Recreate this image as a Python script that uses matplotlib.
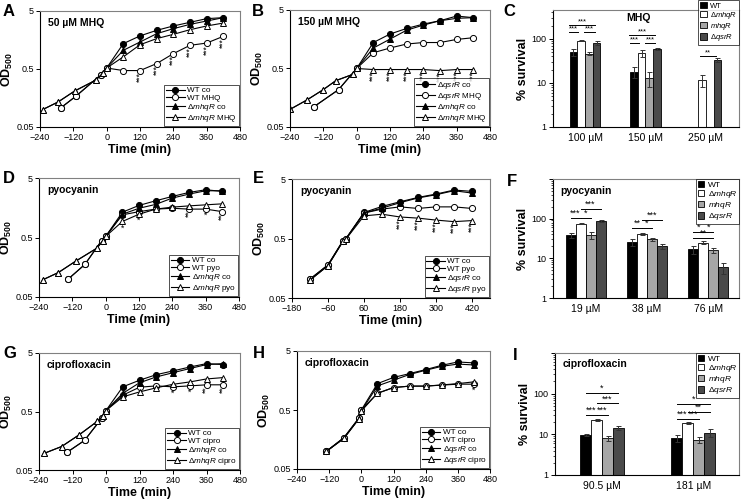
import numpy as np
import matplotlib
matplotlib.use("Agg")
import matplotlib.pyplot as plt
from matplotlib.patches import Patch

plt.rcParams['font.family'] = ['Liberation Sans', 'DejaVu Sans']
plt.rcParams['mathtext.fontset'] = 'custom'
plt.rcParams['mathtext.rm'] = 'Liberation Sans'
plt.rcParams['mathtext.it'] = 'Liberation Sans:italic'
plt.rcParams['mathtext.bf'] = 'Liberation Sans:bold'

D_MHQR = '\u0394$\\mathit{mhqR}$'
D_QSRR = '\u0394$\\mathit{qsrR}$'
late = [60, 120, 180, 240, 300, 360, 420]

# panel A - 50 uM MHQ
a_t_wt = [-165, -110, -20, 0] + late
a_wt_co = [0.107, 0.171, 0.40, 0.52, 1.37, 1.86, 2.32, 2.76, 3.19, 3.69, 3.84]
a_wt_mhq = [0.107, 0.171, 0.40, 0.52, 0.47, 0.47, 0.62, 0.92, 1.28, 1.40, 1.83]
a_t_mut = [-230, -175, -115, -40, -12, 0] + late
a_mut_co = [0.10, 0.135, 0.209, 0.32, 0.43, 0.52, 1.05, 1.46, 2.03, 2.48, 2.94, 3.36, 3.84]
a_mut_mhq = [0.10, 0.135, 0.209, 0.32, 0.43, 0.52, 0.81, 1.31, 1.67, 1.98, 2.38, 2.76, 3.10]
a_star_t = [120, 180, 240, 300, 360, 420]
a_star_lab = ['***'] * 6

# panel B - 150 uM MHQ
b_t_qsr = [-155, -65, 0] + late
b_qsr_co = [0.11, 0.218, 0.5, 1.39, 1.94, 2.42, 2.87, 3.28, 3.94, 3.70]
b_qsr_mhq = [0.11, 0.218, 0.5, 0.93, 1.12, 1.31, 1.39, 1.39, 1.57, 1.68]
b_t_mut = [-240, -180, -120, -75, -12, 0] + late
b_mut_co = [0.10, 0.144, 0.218, 0.31, 0.40, 0.5, 1.12, 1.59, 2.26, 2.76, 3.28, 3.60, 3.70]
b_mut_mhq = [0.10, 0.144, 0.218, 0.31, 0.40, 0.5, 0.48, 0.48, 0.48, 0.48, 0.46, 0.48, 0.48]
b_star_t = late
b_star_lab = ['***'] * 7

# panel D - pyocyanin, WT vs mhqR
d_t_wt = [-135, -75, -15, 0] + late
d_wt_co = [0.10, 0.176, 0.44, 0.52, 1.33, 1.73, 2.07, 2.45, 2.86, 3.17, 2.98]
d_wt_pyo = [0.10, 0.176, 0.44, 0.52, 1.20, 1.36, 1.50, 1.55, 1.50, 1.50, 1.36]
d_t_mut = [-225, -170, -108, -32, -10, 0] + late
d_mut_co = [0.098, 0.129, 0.20, 0.33, 0.44, 0.52, 1.23, 1.55, 1.80, 2.30, 2.68, 3.05, 3.05]
d_mut_pyo = [0.098, 0.129, 0.20, 0.33, 0.44, 0.52, 0.93, 1.23, 1.50, 1.62, 1.70, 1.77, 1.84]
d_star_t = [60, 120, 300, 360, 420]
d_star_lab = ['*', '*', '**', '*', '**']

# panel E - pyocyanin, WT vs qsrR
e_t = [-120, -60, -10, 0] + late
e_wt_co = [0.104, 0.18, 0.46, 0.50, 1.37, 1.73, 2.07, 2.45, 2.79, 3.26, 3.10]
e_wt_pyo = [0.104, 0.18, 0.46, 0.50, 1.34, 1.56, 1.70, 1.60, 1.70, 1.70, 1.60]
e_qsr_co = [0.10, 0.175, 0.45, 0.49, 1.34, 1.62, 2.00, 2.40, 2.72, 3.18, 2.90]
e_qsr_pyo = [0.10, 0.175, 0.45, 0.49, 1.20, 1.28, 1.15, 1.10, 1.02, 0.96, 1.00]
e_star_t = [180, 240, 300, 360, 420]
e_star_lab = ['***'] * 5

# panel G - ciprofloxacin, WT vs mhqR
g_t_wt = [-140, -77, -16, 0] + late
g_wt_co = [0.10, 0.16, 0.38, 0.52, 1.32, 1.71, 2.13, 2.47, 2.88, 3.29, 3.17]
g_wt_cip = [0.10, 0.16, 0.38, 0.52, 0.95, 1.30, 1.37, 1.32, 1.37, 1.43, 1.43]
g_t_mut = [-222, -159, -96, -31, -10, 0] + late
g_mut_co = [0.096, 0.126, 0.20, 0.34, 0.42, 0.52, 1.02, 1.55, 1.95, 2.30, 2.71, 3.17, 3.29]
g_mut_cip = [0.096, 0.126, 0.20, 0.34, 0.42, 0.52, 0.89, 1.08, 1.27, 1.46, 1.60, 1.80, 1.90]
g_star_t = [240, 300, 360, 420]
g_star_lab = ['*', '*', '**', '**']

# panel H - ciprofloxacin, WT vs qsrR
h_t = [-130, -65, -10, 0] + late
h_wt_co = [0.10, 0.17, 0.36, 0.50, 1.40, 1.78, 2.07, 2.42, 2.86, 3.26, 3.14]
h_wt_cip = [0.10, 0.17, 0.36, 0.50, 0.96, 1.20, 1.27, 1.27, 1.32, 1.37, 1.37]
h_qsr_co = [0.10, 0.165, 0.35, 0.48, 1.28, 1.60, 2.00, 2.36, 2.75, 3.00, 2.90]
h_qsr_cip = [0.10, 0.165, 0.35, 0.48, 0.96, 1.20, 1.27, 1.27, 1.33, 1.40, 1.50]
h_star_t = [420]
h_star_lab = ['*']

# survival bar charts: order WT, dmhqR, mhqR, dqsrR
strains = ['WT', D_MHQR, '$\\mathit{mhqR}$', D_QSRR]
bar_colors = ['#000000', '#ffffff', '#a6a6a6', '#4a4a4a']

# brackets: (group, from bar, to bar, y, label) - bar index may be fractional
c_groups = ['100 \u00b5M', '150 \u00b5M', '250 \u00b5M']
c_vals = [[50, 17.6, np.nan], [90, 47, 11.7], [46, 13, np.nan], [80, 58.6, 33]]
c_errs = [[10, 5, 0], [3, 8, 3.5], [4, 5, 0], [8, 3, 3]]
c_brackets = [(0, -0.6, 0.6, 140, '***'), (0, 1.4, 2.8, 140, '***'), (0, -0.6, 2.8, 205, '***'),
              (1, -0.5, 0.7, 80, '***'), (1, 1.5, 2.8, 80, '***'), (1, -0.6, 2.8, 122, '***'),
              (2, 0.7, 2.8, 40, '**')]

f_groups = ['19 \u00b5M', '38 \u00b5M', '76 \u00b5M']
f_vals = [[38.5, 25.7, 16.9], [75, 41.5, 24.8], [38.5, 30, 16], [86, 20.5, 5.9]]
f_errs = [[6, 5, 4], [3, 3, 2], [7, 3, 2], [5, 3, 1.8]]
f_brackets = [(0, 0, 1, 104, '***'), (0, 1, 2, 104, '*'), (0, 1, 3, 174, '***'),
              (1, 0, 1, 58, '**'), (1, 1, 2, 58, '*'), (1, 1, 3, 94, '***'),
              (2, 0, 1, 46, '*'), (2, 1, 2, 46, '*'), (2, 0, 2, 33, '**')]

i_groups = ['90.5 \u00b5M', '181 \u00b5M']
i_vals = [[9.5, 7.9], [23, 19.2], [8.1, 7.3], [14.6, 11]]
i_errs = [[0.5, 1.5], [1.5, 1], [1.2, 1.2], [1.5, 2.5]]
i_brackets = [(0, 0, 1, 30, '***'), (0, 1, 2, 30, '***'), (0, 1, 3, 58, '***'), (0, 0, 3, 104, '*'),
              (1, 0, 1, 24, '***'), (1, 1, 2, 24, '***'), (1, 1, 3, 36, '**'), (1, 0, 3, 55, '*')]

W, H = 741, 504
fig = plt.figure(figsize=(W / 100, H / 100), dpi=100)


def box(l, r, t, b):
    return fig.add_axes([l / W, 1 - b / H, (r - l) / W, (b - t) / H])


def frame(ax):
    for s in ['top', 'right']:
        ax.spines[s].set_color('#808080')
        ax.spines[s].set_linewidth(0.8)
    for s in ['left', 'bottom']:
        ax.spines[s].set_linewidth(0.8)
    ax.tick_params(labelsize=6.5, length=3, width=0.7, pad=1.5)


def growth(ax, series, title, star_t, star_lab, xlim, xticks):
    for t, y, mk, filled, lab in series:
        ax.plot(t, y, color='black', lw=0.8, marker=mk, ms=4.4, mew=0.7,
                mfc='black' if filled else 'white', mec='black', label=lab)
    ax.set_yscale('log')
    ax.set_ylim(0.05, 5)
    ax.set_yticks([0.05, 0.5, 5], ['0.05', '0.5', '5'])
    ax.minorticks_off()
    ax.set_xlim(*xlim)
    ax.set_xticks(xticks)
    frame(ax)
    ax.set_xlabel('Time (min)', fontsize=9, fontweight='bold', labelpad=1)
    ax.set_ylabel('$\\mathbf{OD_{500}}$', fontsize=9, labelpad=1)
    ax.text(0.04, 0.9, title, transform=ax.transAxes, fontsize=7.5,
            fontweight='bold', va='center')
    for t, lab in zip(star_t, star_lab):
        low = min(np.interp(t, s[0], s[1]) for s in series)
        ax.text(t, low * 0.93, lab, fontsize=6.2, ha='center', va='top',
                rotation=90 if len(lab) > 1 else 0)
    leg = ax.legend(loc='lower right', fontsize=5.9, frameon=True, fancybox=False,
                    edgecolor='black', borderaxespad=0.15, handlelength=2.3,
                    handletextpad=0.3, labelspacing=0.0, borderpad=0.2)
    leg.get_frame().set_linewidth(0.6)


def survival(ax, groups, vals, errs, brackets, title, title_pos, width, xlim, leg_y=1.0):
    x = np.arange(len(groups))
    offs = (np.arange(4) - 1.5) * width
    for k in range(4):
        v = np.array(vals[k], dtype=float)
        ok = ~np.isnan(v)
        ax.bar(x[ok] + offs[k], v[ok] - 1, width=width, bottom=1, color=bar_colors[k],
               edgecolor='black', linewidth=0.6, label=strains[k])
        ax.errorbar(x[ok] + offs[k], v[ok], yerr=np.array(errs[k])[ok], fmt='none',
                    ecolor='#333333', elinewidth=0.7, capsize=1.8, capthick=0.7)
    for g, i, j, yv, lab in brackets:
        x0 = x[g] + (i - 1.5) * width
        x1 = x[g] + (j - 1.5) * width
        ax.plot([x0, x1], [yv, yv], color='black', lw=0.7)
        ax.text((x0 + x1) / 2, yv, lab, ha='center', va='bottom', fontsize=6.5)
    ax.set_yscale('log')
    ax.set_ylim(1, 1000)
    ax.set_yticks([1, 10, 100, 1000], ['1', '10', '100', ''])
    ax.set_xlim(*xlim)
    ax.set_xticks(x, groups)
    frame(ax)
    ax.tick_params(axis='x', length=0, labelsize=7.5, pad=4)
    ax.tick_params(axis='y', which='minor', length=1.5, width=0.5)
    ax.set_ylabel('% survival', fontsize=9, fontweight='bold', labelpad=2)
    ax.text(title_pos[0], title_pos[1], title, transform=ax.transAxes, fontsize=7.5,
            fontweight='bold', va='center', ha=title_pos[2])
    handles = [Patch(facecolor=c, edgecolor='black', linewidth=0.6) for c in bar_colors]
    leg = ax.legend(handles, strains, loc='upper right', bbox_to_anchor=(1.0, leg_y),
                    fontsize=6, fancybox=False,
                    edgecolor='black', borderaxespad=0.0, handlelength=0.8, handleheight=0.8,
                    handletextpad=0.4, labelspacing=0.02, borderpad=0.2)
    leg.get_frame().set_linewidth(0.6)
    return leg


xt = [-240, -120, 0, 120, 240, 360, 480]

axA = box(40, 240, 11, 127)
growth(axA, [(a_t_wt, a_wt_co, 'o', True, 'WT co'), (a_t_wt, a_wt_mhq, 'o', False, 'WT MHQ'),
             (a_t_mut, a_mut_co, '^', True, D_MHQR + ' co'), (a_t_mut, a_mut_mhq, '^', False, D_MHQR + ' MHQ')],
       '50 \u00b5M MHQ', a_star_t, a_star_lab, (-240, 480), xt)

axB = box(290, 490, 10, 127)
growth(axB, [(b_t_qsr, b_qsr_co, 'o', True, D_QSRR + ' co'), (b_t_qsr, b_qsr_mhq, 'o', False, D_QSRR + ' MHQ'),
             (b_t_mut, b_mut_co, '^', True, D_MHQR + ' co'), (b_t_mut, b_mut_mhq, '^', False, D_MHQR + ' MHQ')],
       '150 \u00b5M MHQ', b_star_t, b_star_lab, (-240, 480), xt)

axC = box(553, 739, 10, 127)
legC = survival(axC, c_groups, c_vals, c_errs, c_brackets, 'MHQ', (0.46, 0.93, 'center'),
                0.128, (-0.53, 2.55), leg_y=1.085)
axC.set_ylim(1, 450)
axC.set_yticks([1, 10, 100], ['1', '10', '100'])
for t in legC.get_texts():
    t.set_fontsize(5.5)
for t in axC.texts[:-1]:
    t.set_fontsize(5.5)

axD = box(39, 239, 178, 297)
growth(axD, [(d_t_wt, d_wt_co, 'o', True, 'WT co'), (d_t_wt, d_wt_pyo, 'o', False, 'WT pyo'),
             (d_t_mut, d_mut_co, '^', True, D_MHQR + ' co'), (d_t_mut, d_mut_pyo, '^', False, D_MHQR + ' pyo')],
       'pyocyanin', d_star_t, d_star_lab, (-240, 480), xt)

axE = box(292, 490, 179, 298)
growth(axE, [(e_t, e_wt_co, 'o', True, 'WT co'), (e_t, e_wt_pyo, 'o', False, 'WT pyo'),
             (e_t, e_qsr_co, '^', True, D_QSRR + ' co'), (e_t, e_qsr_pyo, '^', False, D_QSRR + ' pyo')],
       'pyocyanin', e_star_t, e_star_lab, (-180, 480), [-180, -60, 60, 180, 300, 420])

axF = box(553, 739, 179, 298)
survival(axF, f_groups, f_vals, f_errs, f_brackets, 'pyocyanin', (0.04, 0.9, 'left'),
         0.163, (-0.53, 2.5))

axG = box(39, 240, 353, 470)
growth(axG, [(g_t_wt, g_wt_co, 'o', True, 'WT co'), (g_t_wt, g_wt_cip, 'o', False, 'WT cipro'),
             (g_t_mut, g_mut_co, '^', True, D_MHQR + ' co'), (g_t_mut, g_mut_cip, '^', False, D_MHQR + ' cipro')],
       'ciprofloxacin', g_star_t, g_star_lab, (-240, 480), xt)

axH = box(297, 490, 351, 469)
growth(axH, [(h_t, h_wt_co, 'o', True, 'WT co'), (h_t, h_wt_cip, 'o', False, 'WT cipro'),
             (h_t, h_qsr_co, '^', True, D_QSRR + ' co'), (h_t, h_qsr_cip, '^', False, D_QSRR + ' cipro')],
       'ciprofloxacin', h_star_t, h_star_lab, (-240, 480), xt)

axI = box(555, 739, 353, 475)
survival(axI, i_groups, i_vals, i_errs, i_brackets, 'ciprofloxacin', (0.04, 0.91, 'left'),
         0.12, (-0.515, 1.5))

for lab, px, py in [('A', 3, 4), ('B', 252, 4), ('C', 503, 4), ('D', 3, 171), ('E', 253, 171),
                    ('F', 507, 174), ('G', 3, 346), ('H', 253, 346), ('I', 513, 348)]:
    fig.text(px / W, 1 - py / H, lab, fontsize=12, fontweight='bold', va='top', ha='left')

fig.savefig('out.png', dpi=100)
